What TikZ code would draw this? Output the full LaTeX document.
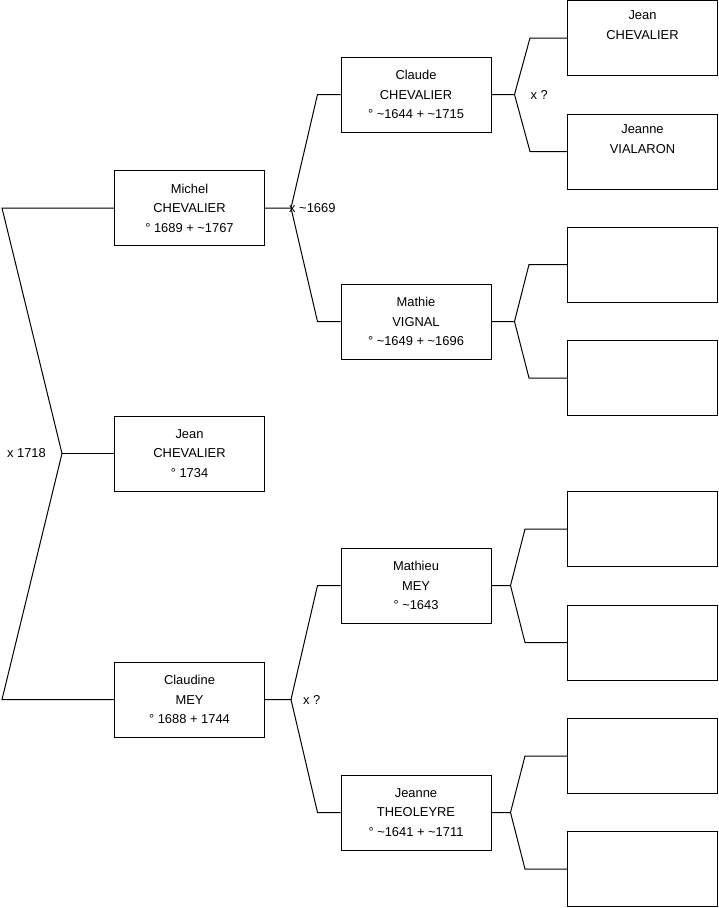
\documentclass[tikz,border=0pt]{standalone}
\usepackage{fontspec}
\setmainfont{Liberation Sans}
\usetikzlibrary{positioning, calc}

\begin{document}
\begin{tikzpicture}[
    x=1pt, y=-1pt,
    person/.style={draw, line width=1pt, align=center, inner sep=0pt,
                   minimum width=150pt, minimum height=75pt,
                   font=\fontsize{12.9}{19.6}\selectfont},
    union/.style={font=\fontsize{12.9}{15}\selectfont, inner sep=0pt},
    link/.style={line width=1pt},
]
\useasboundingbox (0,0) rectangle (719,908);
\coordinate (edge) at (2,0);
% generation 1 and 2
\node[person] (jean) at (189.5,453.5) {Jean\\ CHEVALIER\\ ° 1734};
\node[person] (michel) at (189.5,208) {Michel\\ CHEVALIER\\ ° 1689 + \char`\~1767};
\node[person] (claudine) at (189.5,699.5) {Claudine\\ MEY\\ ° 1688 + 1744};
% generation 3
\node[person] (claude) at (416,94.5) {Claude\\ CHEVALIER\\ ° \char`\~1644 + \char`\~1715};
\node[person] (mathie) at (416,321.5) {Mathie\\ VIGNAL\\ ° \char`\~1649 + \char`\~1696};
\node[person] (mathieu) at (416,585.5) {Mathieu\\ MEY\\ ° \char`\~1643};
\node[person] (theoleyre) at (416,812.5) {Jeanne\\ THEOLEYRE\\ ° \char`\~1641 + \char`\~1711};
% generation 4
\node[person] (jeanc) at (642.5,38) {Jean\\ CHEVALIER\\ \strut};
\node[person] (vialaron) at (642.5,151.5) {Jeanne\\ VIALARON\\ \strut};
\node[person] (p3) at (642.5,264.5) {};
\node[person] (p4) at (642.5,378) {};
\node[person] (p5) at (642.5,529) {};
\node[person] (p6) at (642.5,642.5) {};
\node[person] (p7) at (642.5,756) {};
\node[person] (p8) at (642.5,869) {};
% brackets
\draw[link] (jean.west) -- ++(-52,0) coordinate (m0);
\draw[link] (michel.west) -- (michel.west -| edge) -- (m0) -- (claudine.west -| edge) -- (claudine.west);
\node[union, anchor=east] (u0) at ($(m0)+(-16,0)$) {x 1718};

\draw[link] (michel.east) -- ++(26,0) coordinate (m1) -- ($(claude.west)+(-23,0)$) -- (claude.west);
\draw[link] (m1) -- ($(mathie.west)+(-23,0)$) -- (mathie.west);
\node[union, anchor=west] (u1) at ($(m1)+(-2,0)$) {x \char`\~1669};

\draw[link] (claudine.east) -- ++(26,0) coordinate (m2) -- ($(mathieu.west)+(-23,0)$) -- (mathieu.west);
\draw[link] (m2) -- ($(theoleyre.west)+(-23,0)$) -- (theoleyre.west);
\node[union, anchor=west] (u2) at ($(m2)+(12,0)$) {x ?};

\draw[link] (claude.east) -- ++(23,0) coordinate (m3) -- ($(jeanc.west)+(-37,0)$) -- (jeanc.west);
\draw[link] (m3) -- ($(vialaron.west)+(-37,0)$) -- (vialaron.west);
\node[union, anchor=west] (u3) at ($(m3)+(16,0)$) {x ?};

\draw[link] (mathie.east) -- ++(23,0) coordinate (m4) -- ($(p3.west)+(-38,0)$) -- (p3.west);
\draw[link] (m4) -- ($(p4.west)+(-38,0)$) -- (p4.west);

\draw[link] (mathieu.east) -- ++(19,0) coordinate (m5) -- ($(p5.west)+(-42,0)$) -- (p5.west);
\draw[link] (m5) -- ($(p6.west)+(-42,0)$) -- (p6.west);

\draw[link] (theoleyre.east) -- ++(19,0) coordinate (m6) -- ($(p7.west)+(-42,0)$) -- (p7.west);
\draw[link] (m6) -- ($(p8.west)+(-42,0)$) -- (p8.west);
\end{tikzpicture}
\end{document}
